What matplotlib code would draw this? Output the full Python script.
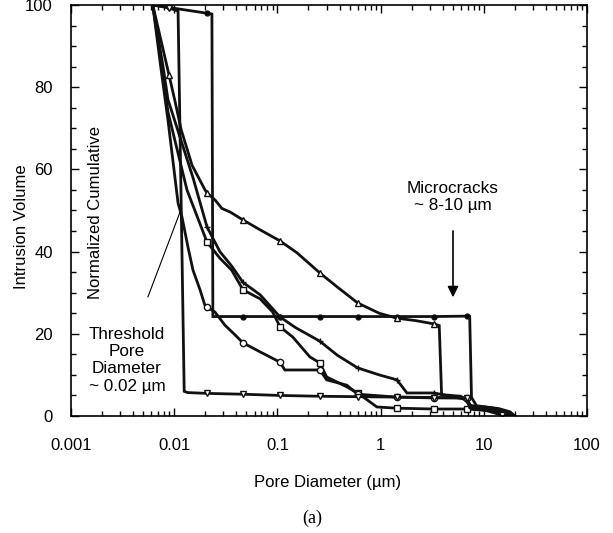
import numpy as np
import matplotlib
matplotlib.use('Agg')
import matplotlib.pyplot as plt
from matplotlib.ticker import MultipleLocator, LogLocator, NullFormatter

plt.rcParams.update({
    'font.family': 'Liberation Sans',
    'font.size': 12,
    'axes.linewidth': 1.2,
})

# marker positions shared by all curves (pore diameter, um)
MARK_X = [0.0089, 0.0208, 0.0464, 0.106, 0.258, 0.60, 1.44, 3.3, 6.8, 15]

# filled circle
x_dot = [0.0062, 0.0089, 0.0208, 0.0232, 0.0237, 0.0464, 0.106, 0.258, 0.60,
         1.44, 3.3, 6.8, 7.3, 7.6, 8.5, 14, 18, 20]
y_dot = [100, 99.4, 98.0, 97.8, 24.2, 24.2, 24.2, 24.2, 24.2,
         24.2, 24.2, 24.3, 24.2, 4.5, 2.5, 1.8, 1.0, 0]

# open triangle
x_tri = [0.0062, 0.0089, 0.0102, 0.0117, 0.0149, 0.0199, 0.0208, 0.025, 0.029,
         0.035, 0.0464, 0.068, 0.106, 0.155, 0.258, 0.38, 0.60, 0.97, 1.44, 2.2,
         3.3, 3.7, 3.9, 6.0, 7.5, 12, 19]
y_tri = [100, 83.0, 76.5, 69.6, 61.0, 55.0, 54.3, 52.5, 50.5,
         49.6, 47.7, 45.3, 42.6, 39.7, 34.8, 31.4, 27.5, 25.0, 23.8, 23.2,
         22.4, 22.0, 5.2, 4.8, 2.5, 2.0, 0]

# open square
x_sq = [0.0062, 0.0076, 0.0087, 0.0133, 0.0208, 0.0277, 0.036, 0.0464, 0.068,
        0.09, 0.106, 0.141, 0.206, 0.258, 0.30, 0.47, 0.60, 0.92, 1.44, 3.3,
        6.8, 13, 17, 20]
y_sq = [100, 85, 74, 55, 42.3, 38.4, 35.5, 30.7, 28.5,
        25.3, 21.7, 19.2, 14.4, 12.9, 9.5, 7.1, 5.6, 2.2, 1.9, 1.7,
        1.7, 1.2, 0.8, 0]

# plus
x_plus = [0.0062, 0.0078, 0.0087, 0.0152, 0.0208, 0.0277, 0.036, 0.0464, 0.068,
          0.106, 0.15, 0.258, 0.38, 0.60, 0.97, 1.44, 1.8, 3.3, 6.8, 7.5, 12, 19]
y_plus = [100, 85, 77, 58, 46, 40, 36.5, 32.5, 29.5,
          24.1, 21.5, 18.2, 14.8, 11.7, 10.0, 8.8, 5.6, 5.6, 4.0, 2.5, 1.5, 0]

# open circle
x_circ = [0.0062, 0.0074, 0.0087, 0.0109, 0.0119, 0.0136, 0.0152, 0.0178, 0.0198,
          0.0208, 0.0248, 0.031, 0.039, 0.0464, 0.068, 0.106, 0.118, 0.258, 0.30,
          0.47, 0.60, 1.44, 3.3, 6.8, 7.3, 13, 17]
y_circ = [100, 85, 72, 51.8, 48.4, 41.1, 35.5, 30.7, 27.0,
          26.5, 25.3, 22.1, 19.7, 17.8, 15.6, 13.1, 11.2, 11.2, 8.8,
          7.5, 5.3, 4.6, 4.4, 4.4, 2.0, 1.2, 0]

# inverted triangle
x_inv = [0.0062, 0.0089, 0.0109, 0.0125, 0.0135, 0.0208, 0.0464, 0.106, 0.258,
         0.60, 1.44, 3.3, 6.8, 7.5, 11, 15]
y_inv = [100, 99.3, 98.5, 6.0, 5.7, 5.5, 5.3, 5.0, 4.8,
         4.7, 4.6, 4.5, 4.4, 2.0, 1.2, 0.2]

series = [
    (x_dot, y_dot, 'o', 'black'),
    (x_tri, y_tri, '^', 'white'),
    (x_sq, y_sq, 's', 'white'),
    (x_plus, y_plus, '+', 'black'),
    (x_circ, y_circ, 'o', 'white'),
    (x_inv, y_inv, 'v', 'white'),
]

fig = plt.figure(figsize=(6.13, 5.33), dpi=100)
ax = fig.add_axes([71 / 613, 1 - 416 / 533, 516 / 613, 411 / 533])

for xs, ys, mk, fc in series:
    xs = np.array(xs)
    marks = [i for i, v in enumerate(xs) if np.any(np.isclose(v, MARK_X, rtol=1e-3))]
    ms = 3.5 if mk == 'o' and fc == 'black' else 4.5
    ax.plot(xs, ys, color='#111111', lw=2.0, marker=mk, markevery=marks,
            markersize=ms, markerfacecolor=fc, markeredgecolor='#111111',
            markeredgewidth=1.0, solid_joinstyle='miter')

ax.set_xscale('log')
ax.set_xlim(0.001, 100)
ax.set_ylim(0, 100)
ax.set_xticks([0.001, 0.01, 0.1, 1, 10, 100])
ax.set_xticklabels(['0.001', '0.01', '0.1', '1', '10', '100'])
ax.xaxis.set_minor_locator(LogLocator(base=10, subs=np.arange(2, 10), numticks=20))
ax.xaxis.set_minor_formatter(NullFormatter())
ax.set_yticks([0, 20, 40, 60, 80, 100])
ax.yaxis.set_minor_locator(MultipleLocator(5))
ax.tick_params(which='both', direction='in', top=True, right=True, width=1.0)
ax.tick_params(which='major', length=6)
ax.tick_params(which='minor', length=3.5)
ax.tick_params(axis='x', which='major', pad=16)
ax.tick_params(axis='y', which='major', pad=13)

# annotations
ax.plot([0.00557, 0.01138], [29, 49.6], color='black', lw=0.8)
ax.text(0.00349, 13.6, 'Threshold\nPore\nDiameter\n~ 0.02 µm', ha='center',
        va='center', linespacing=1.2, fontsize=12.3)
ax.annotate('', xy=(5.03, 28.2), xytext=(5.03, 45.7),
            arrowprops=dict(arrowstyle='-|>', color='black', lw=1.2,
                            mutation_scale=16))
ax.text(5.03, 53.3, 'Microcracks\n~ 8-10 µm', ha='center', va='center',
        linespacing=1.2, fontsize=12.3)

fig.text(22 / 613, 1 - 227 / 533, 'Intrusion Volume', rotation=90,
         ha='center', va='center')
fig.text(95 / 613, 1 - 213 / 533, 'Normalized Cumulative', rotation=90,
         ha='center', va='center')
fig.text(328 / 613, 1 - 482 / 533, 'Pore Diameter (µm)', ha='center', va='center')
fig.text(312 / 613, 1 - 518 / 533, '(a)', ha='center', va='center',
         family='Liberation Serif', fontsize=13)

fig.savefig('out.png', dpi=100)
